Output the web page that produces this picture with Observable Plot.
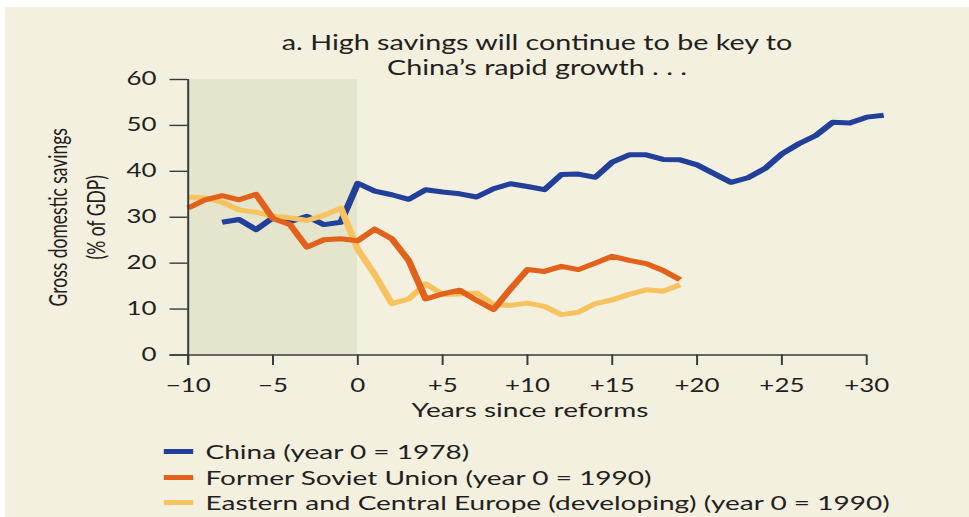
<!DOCTYPE html>
<html>
<head>
<meta charset="utf-8">
<script src="https://cdn.jsdelivr.net/npm/d3@7"></script>
<script src="https://cdn.jsdelivr.net/npm/@observablehq/plot@0.6"></script>
<style>
  html, body { margin: 0; padding: 0; background: #ffffff; }
  #frame { position: relative; width: 969px; height: 517px; overflow: hidden; background: #ffffff; }
  #bg { position: absolute; left: 5px; top: 7px; right: 0; bottom: 0; background: #f3f0df; }
  #inner { position: absolute; left: 0; top: 0; width: 692.14px; height: 517px;
           transform: scaleX(1.4); transform-origin: 0 0;
           font-family: Lato, "Open Sans", sans-serif; color: #231f20; }
  #title { position: absolute; left: 0; width: 767.2px; top: 30px; text-align: center;
           font-size: 20.5px; line-height: 25px; }
  #chart { position: absolute; left: 0; top: 0; }
  #legend { position: absolute; left: 117px; top: 439px; font-size: 20px; line-height: 25.5px; }
  .row { display: flex; align-items: center; height: 25.5px; white-space: nowrap; }
  .sw { display: inline-block; width: 21.4px; height: 5px; margin-right: 8.4px; }
</style>
</head>
<body>
<div id="frame">
  <div id="bg"></div>
  <div id="inner">
    <div id="title"></div>
    <div id="chart"></div>
    <div id="legend"></div>
  </div>
</div>
<script>
// ---------------- data ----------------
const titleLines = ["a. High savings will continue to be key to", "China\u2019s rapid growth . . ."];
const xLabel = "Years since reforms";
const yLabelLines = ["Gross domestic savings", "(% of GDP)"];

const seriesNames = [
  "China (year 0 = 1978)",
  "Former Soviet Union (year 0 = 1990)",
  "Eastern and Central Europe (developing) (year 0 = 1990)"
];
const seriesColors = ["#22409a", "#e2621c", "#f6c360"];

const chinaYears = [-8, -7, -6, -5, -4, -3, -2, -1, 0, 1, 2, 3, 4, 5, 6, 7, 8, 9, 10, 11, 12, 13, 14, 15,
                    16, 17, 18, 19, 20, 21, 22, 23, 24, 25, 26, 27, 28, 29, 30, 31];
const chinaSavings = [28.9, 29.5, 27.3, 29.9, 29.0, 30.2, 28.4, 28.9, 37.4, 35.7, 34.9, 33.9, 36.0, 35.5, 35.1,
                      34.4, 36.2, 37.3, 36.7, 36.0, 39.3, 39.4, 38.7, 42.0, 43.6, 43.6, 42.6, 42.5, 41.4,
                      39.5, 37.6, 38.6, 40.6, 43.8, 46.0, 47.8, 50.7, 50.5, 51.8, 52.2];

const fsuYears = [-10, -9, -8, -7, -6, -5, -4, -3, -2, -1, 0, 1, 2, 3, 4, 5, 6, 7, 8, 9,
                  10, 11, 12, 13, 14, 15, 16, 17, 18, 19];
const fsuSavings = [32.0, 33.8, 34.7, 33.8, 35.0, 29.7, 28.4, 23.5, 25.1, 25.3, 24.9, 27.4, 25.3, 20.6, 12.2,
                    13.3, 14.1, 11.9, 9.9, 14.4, 18.6, 18.2, 19.3, 18.6, 20.0, 21.5, 20.6, 19.9, 18.4, 16.4];

const eceYears = [-10, -9, -8, -7, -6, -5, -4, -3, -2, -1, 0, 1, 2, 3, 4, 5, 6, 7, 8, 9,
                  10, 11, 12, 13, 14, 15, 16, 17, 18, 19];
const eceSavings = [34.4, 34.2, 33.3, 31.6, 31.1, 30.2, 29.9, 29.3, 30.4, 32.0, 23.0, 17.5, 11.2, 12.2, 15.5,
                    13.2, 13.3, 13.5, 11.0, 10.8, 11.3, 10.6, 8.8, 9.3, 11.2, 12.0, 13.2, 14.2, 13.9, 15.3];

const reformPeriod = [{start: -10, end: 0}];   // shaded pre-reform band
const xDomain = [-10, 31];
const yDomain = [0, 60];
const xTicks = [-10, -5, 0, 5, 10, 15, 20, 25, 30];
const xTickLabels = ["\u221210", "\u22125", "0", "+5", "+10", "+15", "+20", "+25", "+30"];
const yTicks = [0, 10, 20, 30, 40, 50, 60];
const yTickLabels = ["0", "10", "20", "30", "40", "50", "60"];

// ---------------- layout (real px divided by horizontal stretch) ----------------
const S = 1.4;
const W = 969 / S;
const H = 440;
const mL = 187.5 / S, mR = W - 883 / S, mT = 79, mB = H - 354.5;

const toRows = (name, xs, ys) => xs.map((x, i) => ({series: name, year: x, value: ys[i]}));
const china = toRows(seriesNames[0], chinaYears, chinaSavings);
const fsu = toRows(seriesNames[1], fsuYears, fsuSavings);
const ece = toRows(seriesNames[2], eceYears, eceSavings);

const axisColor = "#3a3a3a";
const pxPerYear = (883 - 187.5) / S / (xDomain[1] - xDomain[0]);
const pxPerPct = (354.5 - 79) / (yDomain[1] - yDomain[0]);

const lineOpts = {x: "year", y: "value", stroke: "series", strokeWidth: 5,
                  strokeLinejoin: "round", strokeLinecap: "butt"};

const chart = Plot.plot({
  width: W, height: H,
  marginLeft: mL, marginRight: mR, marginTop: mT, marginBottom: mB,
  style: {background: "transparent", color: "#231f20", fontFamily: "Lato, 'Open Sans', sans-serif", overflow: "visible"},
  x: {domain: xDomain, axis: null, label: null},
  y: {domain: yDomain, axis: null, label: null},
  color: {domain: seriesNames, range: seriesColors},
  marks: [
    Plot.rectY(reformPeriod, {x1: "start", x2: "end", y1: yDomain[0], y2: yDomain[1], fill: "#e4e5cc"}),
    Plot.line(china, lineOpts),
    Plot.line(ece, lineOpts),
    Plot.line(fsu, lineOpts),
    Plot.ruleY([yDomain[0]], {x1: xDomain[0] - 18 / S / pxPerYear, x2: xTicks[xTicks.length - 1],
                              stroke: axisColor, strokeWidth: 1.4}),
    Plot.ruleX([xDomain[0]], {y1: yDomain[0] - 10.5 / pxPerPct, y2: yDomain[1], stroke: axisColor, strokeWidth: 1.4}),
    Plot.axisX(xTicks, {anchor: "bottom", label: null, tickSize: 10.5, tickPadding: 13, fontSize: 18.5,
                        stroke: axisColor, strokeWidth: 1.4,
                        tickFormat: d => xTickLabels[xTicks.indexOf(d)]}),
    Plot.axisY(yTicks, {anchor: "left", label: null, tickSize: 18 / S, tickPadding: 9.7, fontSize: 18.5,
                        stroke: axisColor, strokeWidth: 1.4,
                        tickFormat: d => yTickLabels[yTicks.indexOf(d)]}),
    Plot.text([xLabel], {frameAnchor: "bottom", textAnchor: "middle", dx: -4.3, dy: 62, fontSize: 20, fill: "#231f20"}),
    Plot.text([yLabelLines[0]], {frameAnchor: "left", textAnchor: "middle", rotate: -90, dx: 41.4 - mL, dy: 0,
                                 fontSize: 17.5, fill: "#231f20"}),
    Plot.text([yLabelLines[1]], {frameAnchor: "left", textAnchor: "middle", rotate: -90, dx: 68.6 - mL, dy: 0,
                                 fontSize: 17.5, fill: "#231f20"})
  ]
});
document.getElementById("chart").appendChild(chart);

// title
const titleEl = document.getElementById("title");
titleLines.forEach(t => { const d = document.createElement("div"); d.textContent = t; titleEl.appendChild(d); });

// legend
const legendEl = document.getElementById("legend");
seriesNames.forEach((name, i) => {
  const row = document.createElement("div");
  row.className = "row";
  const sw = document.createElement("span");
  sw.className = "sw";
  sw.style.background = seriesColors[i];
  const label = document.createElement("span");
  label.textContent = name;
  row.appendChild(sw); row.appendChild(label);
  legendEl.appendChild(row);
});
</script>
</body>
</html>
